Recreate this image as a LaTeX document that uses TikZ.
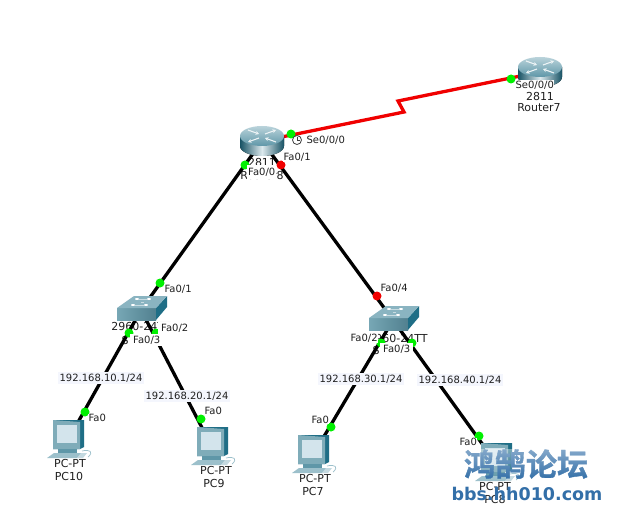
\documentclass[tikz,border=0pt]{standalone}
\usepackage{fontspec}
\setmainfont{DejaVu Sans}
\newfontfamily\cjkfont{Noto Sans CJK SC}[BoldFont={* Bold},BoldFeatures={FakeBold=1.2}]
\usetikzlibrary{calc,fadings,arrows.meta}
\definecolor{ciscoTeal}{HTML}{5F97A8}
\definecolor{ciscoDark}{HTML}{1F6E86}
\definecolor{ciscoLight}{HTML}{9CC0CB}
\definecolor{screenFill}{HTML}{D3E4EC}
\definecolor{labelFill}{HTML}{F4F6FD}
\definecolor{portGreen}{HTML}{00F000}
\definecolor{portRed}{HTML}{F00000}
\definecolor{markBlue}{HTML}{336FA8}
\tikzset{
  x=1pt, y=-1pt,
  anchorpt/.style={inner sep=0pt, minimum size=0pt},
  link/.style={draw=black, line width=3.3pt},
  serial/.style={draw=portRed, line width=3.3pt, line join=miter},
  port/.style={circle, fill=portGreen, inner sep=0pt, minimum size=9pt},
  portdown/.style={circle, fill=portRed, inner sep=0pt, minimum size=9pt},
  lab/.style={font=\fontsize{10}{11}\selectfont, inner sep=0.4pt, text=black!88},
  ifacelab/.style={lab, fill=white, anchor=west},
  widefill/.style={inner xsep=3pt, inner ysep=1.5pt},
  iplab/.style={lab, fill=labelFill, inner xsep=2pt, inner ysep=2pt},
  devlab/.style={font=\fontsize{11}{12}\selectfont, inner sep=0pt, text=black!88},
  pics/routericon/.style={code={
    \fill[left color=ciscoDark!75!black, right color=ciscoDark!75!black, middle color=ciscoLight!35!white]
      (-22,-5) -- (-22,5) arc[start angle=180, end angle=0, x radius=22, y radius=10] -- (22,-5) -- cycle;
    \shade[top color=ciscoLight!70!white, bottom color=ciscoTeal]
      (0,-5) ellipse[x radius=22, y radius=10];
    \draw[white!88!ciscoTeal, line width=1.1pt, -{Stealth[length=3.5pt,width=4pt]}]
      (-14,-11) -- (-3,-7);
    \draw[white!88!ciscoTeal, line width=1.1pt, -{Stealth[length=3.5pt,width=4pt]}]
      (14,1) -- (3,-3);
    \draw[white!88!ciscoTeal, line width=1.1pt, -{Stealth[length=3.5pt,width=4pt]}]
      (-3,-3) -- (-14,1);
    \draw[white!88!ciscoTeal, line width=1.1pt, -{Stealth[length=3.5pt,width=4pt]}]
      (3,-7) -- (14,-11);
  }},
  pics/switchicon/.style={code={
    \shade[left color=ciscoTeal!85!white, right color=ciscoTeal!85!black]
      (-24,-2) -- (15,-2) -- (15,10) -- (-24,10) -- cycle;
    \fill[ciscoDark] (15,-2) -- (26,-14) -- (26,-3) -- (15,10) -- cycle;
    \fill[ciscoLight!70!ciscoTeal] (-24,-2) -- (-7,-14) -- (26,-14) -- (15,-2) -- cycle;
    \foreach \p in {(-4,-11),(8,-11),(-8,-5),(5,-5)}
      \fill[white] \p ellipse[x radius=2, y radius=1];
    \draw[white!65!ciscoTeal, line width=0.5pt] (-2,-11) -- (6,-11) (-6,-5) -- (3,-5) (0,-8) -- (3,-8);
  }},
  pics/pcicon/.style={code={
    % casing with its darker side
    \fill[ciscoDark] (-15,-20) -- (16,-20) -- (16,7) -- (12,9) -- (-15,9) -- cycle;
    \fill[ciscoTeal!80!white] (-15,-20) -- (12,-18) -- (12,9) -- (-15,9) -- cycle;
    \fill[screenFill] (-11,-15) -- (9,-15) -- (9,3) -- (-11,3) -- cycle;
    % stand and keyboard
    \fill[ciscoTeal] (-10,9) -- (9,9) -- (9,13) -- (-10,13) -- cycle;
    \fill[ciscoLight] (-14,13) -- (16,13) -- (9,18) -- (-21,18) -- cycle;
    \draw[ciscoLight, line width=0.7pt] (14,11) .. controls (22,9) and (26,12) .. (20,17);
    \fill[ciscoLight!60!white] (13,13) -- (19,13) -- (15,18) -- (9,18) -- cycle;
  }}
}
\begin{document}
\begin{tikzpicture}
\useasboundingbox (0,0) rectangle (618,521);
\fill[white] (0,0) rectangle (618,521);

% devices, as anchor points for the cabling
\node[anchorpt] (r8) at (262,141) {};
\node[anchorpt] (r7) at (540,72) {};
\node[anchorpt] (s1) at (141,310) {};
\node[anchorpt] (s2) at (393,320) {};
\node[anchorpt] (pc10) at (68,440) {};
\node[anchorpt] (pc9) at (212,447) {};
\node[anchorpt] (pc7) at (313,455) {};
\node[anchorpt] (pc8) at (496,463) {};
\coordinate (zigA) at (404,112);
\coordinate (zigB) at (398,101);

% model and host names below the icons
\node[devlab] at (262,162) {2811};
\node[devlab] at (262,175) {Router8};
\node[devlab] at (540,96) {2811};
\node[devlab] at (539,108) {Router7};
\node[devlab] at (141,326) {2960-24TT};
\node[devlab] at (125,340) {S};
\node[devlab] at (398,338) {2960-24TT};
\node[devlab] at (376,350) {S};
\node[devlab] at (70,463) {PC-PT};
\node[devlab] at (69,476) {PC10};
\node[devlab] at (216,470) {PC-PT};
\node[devlab] at (214,483) {PC9};
\node[devlab] at (315,478) {PC-PT};
\node[devlab] at (313,491) {PC7};
\node[devlab] at (495,486) {PC-PT};
\node[devlab] at (495,499) {PC8};

% cabling
\draw[link] (r8) -- (s1);
\draw[link] (r8) -- (s2);
\draw[link] (s1) -- (pc10);
\draw[link] (s1) -- (pc9);
\draw[link] (s2) -- (pc7);
\draw[link] (s2) -- (pc8);
\draw[serial] (r8) -- (zigA) -- (zigB) -- (r7);

% icons
\path (r8) pic {routericon};
\path (r7) pic {routericon};
\path (s1) pic {switchicon};
\path (s2) pic {switchicon};
\path (pc10) pic {pcicon};
\path (pc9) pic {pcicon};
\path (pc7) pic {pcicon};
\path (pc8) pic {pcicon};

% link state lights
\node[port] (p1) at (291,134) {};
\node[port] (p2) at (511,79) {};
\node[port] (p3) at (245,165) {};
\node[portdown] (p4) at (281,165) {};
\node[port] (p5) at (160,283) {};
\node[port] (p6) at (129,333) {};
\node[port] (p7) at (156,333) {};
\node[port] (p8) at (85,412) {};
\node[port] (p9) at (201,419) {};
\node[portdown] (p10) at (377,296) {};
\node[port] (p11) at (381,343) {};
\node[port] (p12) at (412,343) {};
\node[port] (p13) at (331,427) {};
\node[port] (p14) at (479,436) {};

% interface labels, their white ground hides what lies beneath
\node[ifacelab] at (515,85) {Se0/0/0};
\node[ifacelab] at (306,140) {Se0/0/0};
\node[ifacelab] at (283,157) {Fa0/1};
\node[ifacelab, inner xsep=1pt, inner ysep=3pt] at (247,172) {Fa0/0};
\node[ifacelab] at (164,289) {Fa0/1};
\node[ifacelab, widefill] at (158,328) {Fa0/2};
\node[ifacelab, widefill] at (130,340) {Fa0/3};
\node[ifacelab] at (88,418) {Fa0};
\node[ifacelab] at (204,411) {Fa0};
\node[ifacelab] at (380,288) {Fa0/4};
\node[ifacelab] at (350,338) {Fa0/2};
\node[ifacelab, widefill] at (380,349) {Fa0/3};
\node[ifacelab] at (311,420) {Fa0};
\node[ifacelab] at (459,442) {Fa0};

% addressing
\node[iplab] at (101,378) {192.168.10.1/24};
\node[iplab] at (187,396) {192.168.20.1/24};
\node[iplab] at (361,379) {192.168.30.1/24};
\node[iplab] at (460,380) {192.168.40.1/24};

% clock symbol on the DCE end
\node[circle, draw=black!75, fill=white, line width=0.8pt, inner sep=0pt, minimum size=9pt] (clk) at (297,140) {};
\draw[black!75, line width=0.6pt] (clk.center) -- ++(0,-3) (clk.center) -- ++(2.5,0);

% forum mark, lighter towards its top edge
\node[font=\cjkfont\bfseries\fontsize{31}{33}\selectfont, text=markBlue, inner sep=0pt] (markA) at (526,464) {鸿鹄论坛};
\fill[white, fill opacity=0.4, path fading=south] (460,449) rectangle (592,480);
\node[font=\bfseries\fontsize{17.5}{20}\selectfont, text=markBlue, inner sep=0pt] (markB) at (527,494) {bbs.hh010.com};
\end{tikzpicture}
\end{document}
